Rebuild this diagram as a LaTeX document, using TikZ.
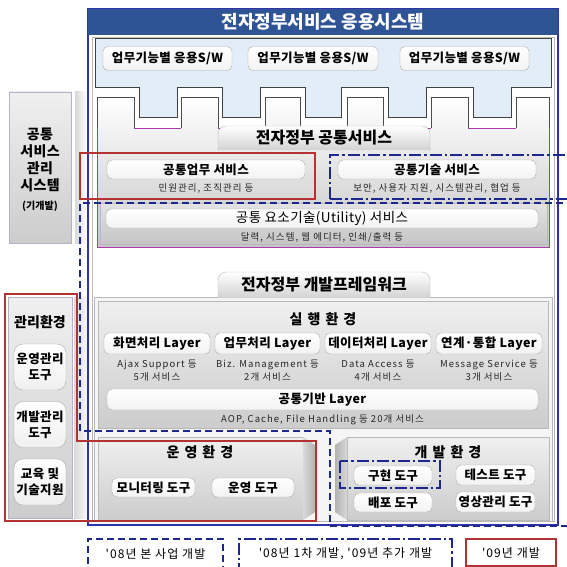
\documentclass[tikz,border=0pt]{standalone}
\usepackage{fontspec}
\setmainfont{Noto Sans CJK KR}
\newfontfamily\lbfont[LetterSpace=3]{Noto Sans CJK KR}
\newfontfamily\spfont[LetterSpace=11]{Noto Sans CJK KR}
\newfontfamily\lgfont[LetterSpace=9]{Noto Sans CJK KR}
\newcommand\myfs[2]{\fontsize{#1}{#2}\selectfont}
\definecolor{titleblue}{RGB}{47,84,150}
\definecolor{frameblue}{RGB}{50,50,170}
\definecolor{dnavy}{RGB}{30,40,140}
\definecolor{myred}{RGB}{180,50,50}
\definecolor{mypurple}{RGB}{170,60,170}
\definecolor{lblue}{RGB}{226,237,248}
\begin{document}
\begin{tikzpicture}[x=1pt,y=-1pt,
  wbox/.style={draw=gray!65, rounded corners=5pt, top color=white, bottom color=gray!10, inner sep=0pt, font=\lbfont\bfseries\myfs{12.5}{14}},
  tbox/.style={draw=gray!65, rounded corners=9pt, top color=white, bottom color=gray!12, inner sep=0pt, align=center, font=\lbfont\bfseries\myfs{12.5}{16}},
  sub/.style={font=\spfont\myfs{9.5}{13.5}, align=center, inner sep=0pt, text=black!85},
  ttl/.style={font=\bfseries\myfs{14}{16}, inner sep=0pt},
  big/.style={font=\bfseries\myfs{16}{18}, inner sep=0pt},
  panel/.style={draw=gray!55, top color=gray!12, bottom color=gray!40},
  dsh/.style={draw=dnavy, line width=1.6pt, dash pattern=on 7pt off 4pt},
  ddot/.style={draw=dnavy, line width=1.6pt, dash pattern=on 12pt off 3pt on 2.5pt off 3pt},
  redl/.style={draw=myred, line width=1.2pt},
  tab/.style={draw=gray!55, top color=white, bottom color=gray!35, rounded corners=8pt},
  lg/.style={font=\lgfont\myfs{12}{14}, inner sep=0pt},
]
\useasboundingbox (0,0) rectangle (566,567);
\fill[white] (0,0) rectangle (566,567);

% ---------- left panels ----------
\path[panel, draw=blue!20!gray!50] (9,92) rectangle (71,243);
\path[left color=gray!30, right color=white] (75,92) rectangle (87,243);
\node[font=\lbfont\bfseries\myfs{14}{17}, align=center, inner sep=0pt] (mgmt) at (40,160) {공통\\서비스\\관리\\시스템};
\node[font=\bfseries\myfs{10}{11}, inner sep=0pt] (mgmtsub) at (40,206) {(기개발)};

\path[panel, draw=blue!20!gray!50] (8,297) rectangle (72,518);
\path[left color=gray!30, right color=white] (74,297) rectangle (90,518);
\node[ttl] (mgenv) at (40,322) {관리환경};
\node[tbox, minimum width=52pt, minimum height=46pt] (op) at (40,367) {운영관리\\도구};
\node[tbox, minimum width=52pt, minimum height=46pt] (dv) at (40,424.5) {개발관리\\도구};
\node[tbox, minimum width=52pt, minimum height=46pt] (ed) at (40,482) {교육 및\\기술지원};

% ---------- main frame ----------
\draw[gray!55] (92,37) rectangle (554,521);
\draw[frameblue, line width=1.1pt] (88,9) rectangle (558,525);
\fill[titleblue] (88,9) rectangle (558,35);
\node[font=\bfseries\myfs{18}{20}, text=white, inner sep=0pt] (title) at (323,22) {전자정부서비스 응용시스템};

% application S/W area
\path[fill=lblue, draw=black!75, line width=0.7pt] (95,38) -- (551,38) -- (551,87) -- (511,87) -- (511,117) -- (473,117) -- (473,87) -- (426,87) -- (426,117) -- (388,117) -- (388,87) -- (341,87) -- (341,117) -- (305,117) -- (305,87) -- (260,87) -- (260,117) -- (222,117) -- (222,87) -- (177,87) -- (177,117) -- (139,117) -- (139,87) -- (95,87) -- cycle;
\node[wbox, minimum width=129pt, minimum height=24pt] (sw1) at (167.5,58.5) {업무기능별 응용S/W};
\node[wbox, minimum width=130pt, minimum height=24pt] (sw2) at (313,58.5) {업무기능별 응용S/W};
\node[wbox, minimum width=129pt, minimum height=24pt] (sw3) at (464.5,58.5) {업무기능별 응용S/W};

% common service area
\path[top color=white, bottom color=gray!45] (97,247) -- (97,97) -- (134,97) -- (134,128) -- (181,128) -- (181,97) -- (218,97) -- (218,128) -- (265,128) -- (265,97) -- (300,97) -- (300,128) -- (347,128) -- (347,97) -- (383,97) -- (383,128) -- (431,128) -- (431,97) -- (468,97) -- (468,128) -- (516,128) -- (516,97) -- (549,97) -- (549,247) -- cycle;
\draw[black!70, line width=0.7pt] (97,128) -- (97,97) -- (134,97) -- (134,128) (181,128) -- (181,97) -- (218,97) -- (218,128) (265,128) -- (265,97) -- (300,97) -- (300,128) (347,128) -- (347,97) -- (383,97) -- (383,128) (431,128) -- (431,97) -- (468,97) -- (468,128) (516,128) -- (516,97) -- (549,97) -- (549,128);
\draw[mypurple, line width=0.7pt] (97,128) -- (97,247) -- (549,247) -- (549,128) (134,128) -- (181,128) (218,128) -- (265,128) (300,128) -- (347,128) (383,128) -- (431,128) (468,128) -- (516,128);

\path[tab] (218,150) -- (218,126) -- (430,126) -- (430,150);
\node[big] (cstitle) at (324,138) {전자정부 공통서비스};

\node[wbox, minimum width=198pt, minimum height=19pt] (cbiz) at (206,169.5) {공통업무 서비스};
\node[sub] (cbizsub) at (206,188) {민원관리, 조직관리 등};
\node[wbox, minimum width=198pt, minimum height=19pt] (ctech) at (437,169.5) {공통기술 서비스};
\node[sub] (ctechsub) at (437,188) {보안, 사용자 지원, 시스템관리, 협업 등};

\path[panel, top color=gray!22, bottom color=gray!45] (100,203) rectangle (547,244);
\node[wbox, minimum width=432pt, minimum height=19pt, font=\lbfont\myfs{13.5}{15}] (util) at (322,218.5) {공통 요소기술(Utility) 서비스};
\node[sub] (utilsub) at (322,237) {달력, 시스템, 웹 에디터, 인쇄/출력 등};

% ---------- development framework ----------
\path[fill=gray!8, draw=gray!55] (94,297) rectangle (552,521);
\path[tab] (218,298) -- (218,272) -- (430,272) -- (430,298);
\node[big] (fwtitle) at (324,285) {전자정부 개발프레임워크};

\path[panel] (98,301) rectangle (548,428);
\node[ttl] (exec) at (323,319) {실\hspace{5pt}행\hspace{5pt}환\hspace{5pt}경};
\node[wbox, minimum width=106pt, minimum height=21pt] (l1) at (157,343.5) {화면처리 Layer};
\node[wbox, minimum width=105pt, minimum height=21pt] (l2) at (267.5,343.5) {업무처리 Layer};
\node[wbox, minimum width=106pt, minimum height=21pt] (l3) at (378,343.5) {데이터처리 Layer};
\node[wbox, minimum width=106pt, minimum height=21pt] (l4) at (489,343.5) {연계·통합 Layer};
\node[sub] (s1) at (157,370.5) {Ajax Support 등\\5개 서비스};
\node[sub] (s2) at (267.5,370.5) {Biz. Management 등\\2개 서비스};
\node[sub] (s3) at (378,370.5) {Data Access 등\\4개 서비스};
\node[sub] (s4) at (489,370.5) {Message Service 등\\3개 서비스};
\node[wbox, minimum width=431pt, minimum height=21pt] (base) at (322.5,399.5) {공통기반 Layer};
\node[sub] (basesub) at (322.5,420) {AOP, Cache, File Handling 등 20개 서비스};

% operation environment
\path[panel] (98,437) rectangle (303,520);
\path[left color=gray!30, right color=gray!60] (303,437) -- (315,445) -- (315,512) -- (303,520) -- cycle;
\node[ttl] (openv) at (200,452) {운\hspace{5pt}영\hspace{5pt}환\hspace{5pt}경};
\node[wbox, minimum width=83pt, minimum height=19pt] (mon) at (153.5,487.5) {모니터링 도구};
\node[wbox, minimum width=82pt, minimum height=19pt] (opt) at (253,487.5) {운영 도구};

% development environment
\path[panel] (347,437) rectangle (549,520);
\path[left color=gray!60, right color=gray!30] (335,445) -- (347,437) -- (347,520) -- (335,512) -- cycle;
\node[ttl] (dvenv) at (448,452) {개\hspace{5pt}발\hspace{5pt}환\hspace{5pt}경};
\node[wbox, minimum width=78pt, minimum height=19pt] (impl) at (393,475.5) {구현 도구};
\node[wbox, minimum width=79pt, minimum height=20pt] (test) at (495.5,475) {테스트 도구};
\node[wbox, minimum width=78pt, minimum height=19pt] (depl) at (393,502.5) {배포 도구};
\node[wbox, minimum width=79pt, minimum height=20pt] (conf) at (495.5,502) {영상관리 도구};

% ---------- development-period outlines ----------
\draw[redl] (80,153) rectangle (315,199);
\draw[redl] (5,294) -- (77,294) -- (77,441) -- (316,441) -- (316,521) -- (5,521) -- cycle;
\draw[dsh] (80,431) -- (80,203) -- (571,203) -- (571,526) -- (330,526) -- (330,431) -- cycle;
\draw[ddot] (330,199) -- (330,155) -- (572,155);
\draw[ddot] (330,199) -- (572,199);
\draw[ddot] (340,461) rectangle (440,488);

% ---------- legend ----------
\draw[dsh] (88,575) -- (88,539) -- (223,539) -- (223,575);
\node[lg] (lg1) at (155.5,554) {'08년 본 사업 개발};
\draw[ddot] (239,575) -- (239,539) -- (452,539) -- (452,575);
\node[lg] (lg2) at (345.5,554) {'08년 1차 개발, '09년 추가 개발};
\draw[redl] (466,539) rectangle (556,566);
\node[lg] (lg3) at (511,553) {'09년 개발};
\end{tikzpicture}
\end{document}
